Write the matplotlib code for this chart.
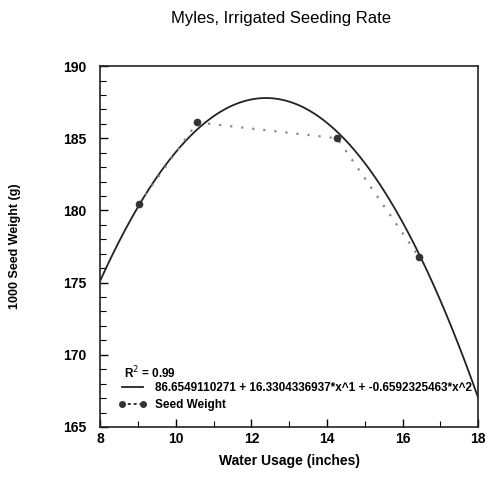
import numpy as np
import matplotlib
matplotlib.use("Agg")
import matplotlib.pyplot as plt
from matplotlib.ticker import MultipleLocator
from matplotlib.lines import Line2D

# Data
water_usage = [9.03, 10.57, 14.27, 16.43]
seed_weight = [180.45, 186.1, 185.0, 176.8]

# Quadratic fit coefficients (from legend)
coef = [86.6549110271, 16.3304336937, -0.6592325463]
r2_text = "R$^2$ = 0.99"
fit_label = "86.6549110271 + 16.3304336937*x^1 + -0.6592325463*x^2"
series_label = "Seed Weight"

x_ticks = [8, 10, 12, 14, 16, 18]
y_ticks = [165, 170, 175, 180, 185, 190]

plt.rcParams['font.family'] = ['Liberation Sans', 'DejaVu Sans']

fig = plt.figure(figsize=(4.88, 4.79), dpi=100)
ax = fig.add_axes([0.205, 0.1086, 0.775, 0.7534])

xf = np.linspace(8, 18, 300)
yf = coef[0] + coef[1] * xf + coef[2] * xf ** 2
ax.plot(xf, yf, color='#222222', lw=1.3)
ax.plot(water_usage, seed_weight, linestyle=(0, (1, 4)), color='#888888', lw=1.6)
ax.plot(water_usage, seed_weight, 'o', color='#333333', ms=4.5, linestyle='none')

ax.set_xlim(8, 18)
ax.set_ylim(165, 190)
ax.set_xticks(x_ticks)
ax.set_yticks(y_ticks)
ax.xaxis.set_minor_locator(MultipleLocator(1))
ax.yaxis.set_minor_locator(MultipleLocator(1))
ax.tick_params(which='both', direction='in', top=False, right=False)
ax.tick_params(axis='y', which='major', pad=10)
ax.tick_params(which='major', length=6, width=1)
ax.tick_params(which='minor', length=4, width=0.8)
for lab in ax.get_xticklabels() + ax.get_yticklabels():
    lab.set_fontweight('bold')
    lab.set_fontsize(10)
for s in ax.spines.values():
    s.set_linewidth(1.2)
    s.set_color('#222222')

ax.set_xlabel("Water Usage (inches)", fontsize=10, fontweight='bold', labelpad=6)
ax.set_ylabel("1000 Seed Weight (g)", fontsize=9, fontweight='bold')
ax.yaxis.set_label_coords(-0.21, 0.5)
fig.text(0.575, 0.962, "Myles, Irrigated Seeding Rate", ha='center', va='center', fontsize=12)

ax.text(0.063, 0.15, r2_text, transform=ax.transAxes, fontsize=8.5, fontweight='bold',
        va='center', ha='left')
handles = [
    Line2D([], [], color='#222222', lw=1.3),
    Line2D([], [], color='#333333', marker='o', ms=4, linestyle=(0, (1.5, 1.5)), lw=1.4),
]
leg = ax.legend(handles, [fit_label, series_label], loc='lower left',
                bbox_to_anchor=(0.035, 0.03), numpoints=2,
                frameon=False, handlelength=2.4, handletextpad=0.7,
                borderaxespad=0.0, labelspacing=0.45, prop={'weight': 'bold', 'size': 8.5})

fig.savefig("out.png", dpi=100, facecolor='white')
